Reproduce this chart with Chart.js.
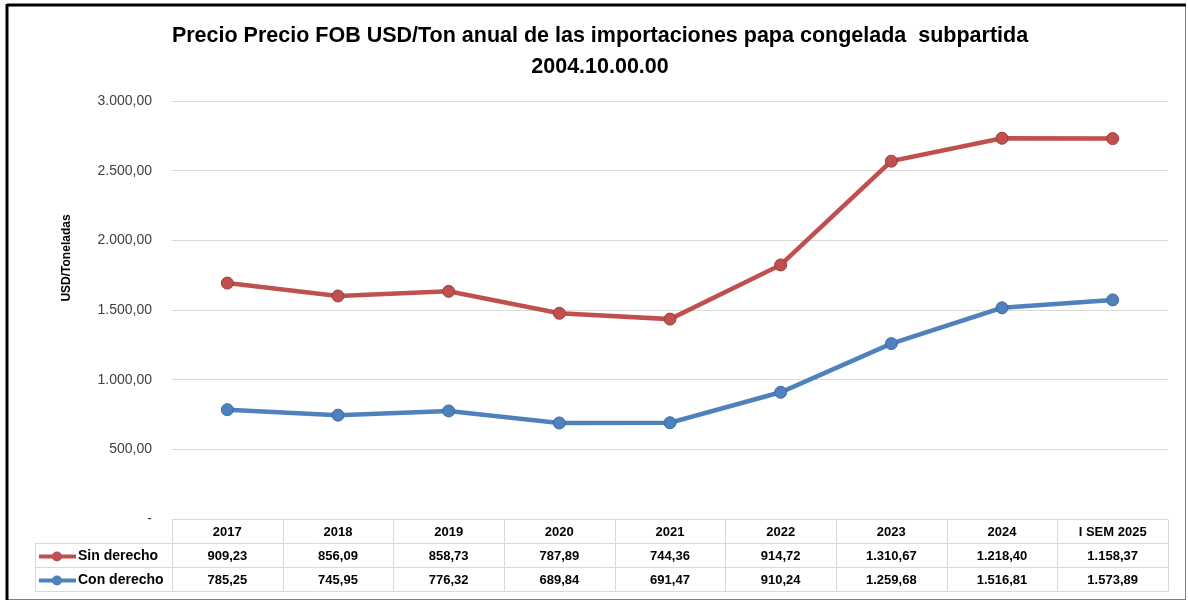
<!DOCTYPE html>
<html>
<head>
<meta charset="utf-8">
<script src="https://cdn.jsdelivr.net/npm/chart.js@4"></script>
<style>
  html, body { margin: 0; padding: 0; background: #ffffff; }
  #wrap { position: relative; width: 1188px; height: 604px; }
  canvas { display: block; }
</style>
</head>
<body>
<div id="wrap"><canvas id="grafico" width="1188" height="604"></canvas></div>
<script>
const categorias = ['2017', '2018', '2019', '2020', '2021', '2022', '2023', '2024', 'I SEM 2025'];
const sinDerecho = [909.23, 856.09, 858.73, 787.89, 744.36, 914.72, 1310.67, 1218.40, 1158.37];
const conDerecho = [785.25, 745.95, 776.32, 689.84, 691.47, 910.24, 1259.68, 1516.81, 1573.89];
const ticksEje = [0, 500, 1000, 1500, 2000, 2500, 3000];

const ROJO = '#C0504D';
const AZUL = '#4F81BD';
const FUENTE = '"Liberation Sans", Arial, sans-serif';
const GRIS_REJILLA = '#D9D9D9';

function formato(v) {
  return v.toLocaleString('de-DE', { minimumFractionDigits: 2, maximumFractionDigits: 2 });
}

// Filas de la tabla de datos (en el orden que muestra el gráfico)
const filasTabla = [
  { nombre: 'Sin derecho', color: ROJO, valores: sinDerecho },
  { nombre: 'Con derecho', color: AZUL, valores: conDerecho },
];

// Plugin: marco, título del eje y tabla de datos debajo del área
const tablaPlugin = {
  id: 'tablaDatos',
  beforeDraw(chart) {
    const ctx = chart.ctx;
    ctx.save();
    ctx.fillStyle = '#ffffff';
    ctx.fillRect(0, 0, chart.width, chart.height);
    ctx.restore();
  },
  afterDraw(chart) {
    const ctx = chart.ctx;
    const x = chart.scales.x;
    const area = chart.chartArea;
    const alto = 24;
    const izqLeyenda = 35;
    const ancho = (area.right - area.left) / categorias.length;

    ctx.save();
    ctx.strokeStyle = GRIS_REJILLA;
    ctx.lineWidth = 1;

    // rejilla de la tabla
    const yTop = area.bottom + 0.5;
    ctx.beginPath();
    ctx.moveTo(area.left, yTop);
    ctx.lineTo(area.right, yTop);
    for (let f = 1; f <= filasTabla.length + 1; f++) {
      ctx.moveTo(izqLeyenda, yTop + alto * f);
      ctx.lineTo(area.right, yTop + alto * f);
    }
    ctx.moveTo(izqLeyenda + 0.5, yTop + alto);
    ctx.lineTo(izqLeyenda + 0.5, yTop + alto * (filasTabla.length + 1));
    for (let c = 0; c <= categorias.length; c++) {
      const xx = Math.round(area.left + ancho * c) + 0.5;
      ctx.moveTo(xx, yTop);
      ctx.lineTo(xx, yTop + alto * (filasTabla.length + 1));
    }
    ctx.stroke();

    ctx.fillStyle = '#000000';
    ctx.font = 'bold 13px ' + FUENTE;
    ctx.textAlign = 'center';
    ctx.textBaseline = 'middle';
    categorias.forEach((cat, i) => {
      ctx.fillText(cat, x.getPixelForValue(i), yTop + alto / 2 + 1);
    });

    filasTabla.forEach((fila, f) => {
      const yc = yTop + alto * (f + 1) + alto / 2 + 1;
      // clave de la leyenda
      ctx.strokeStyle = fila.color;
      ctx.lineWidth = 4;
      ctx.beginPath();
      ctx.moveTo(39, yc);
      ctx.lineTo(76, yc);
      ctx.stroke();
      ctx.fillStyle = fila.color;
      ctx.beginPath();
      ctx.arc(57, yc, 5, 0, Math.PI * 2);
      ctx.fill();
      ctx.fillStyle = '#000000';
      ctx.textAlign = 'left';
      ctx.font = 'bold 14px ' + FUENTE;
      ctx.fillText(fila.nombre, 78, yc);
      ctx.font = 'bold 13px ' + FUENTE;
      ctx.textAlign = 'center';
      fila.valores.forEach((v, i) => {
        ctx.fillText(formato(v), x.getPixelForValue(i), yc);
      });
    });

    // título del eje Y
    ctx.save();
    ctx.translate(67, 258);
    ctx.rotate(-Math.PI / 2);
    ctx.font = 'bold 12px ' + FUENTE;
    ctx.fillStyle = '#000000';
    ctx.textAlign = 'center';
    ctx.textBaseline = 'middle';
    ctx.fillText('USD/Toneladas', 0, 0);
    ctx.restore();

    // marco exterior
    ctx.strokeStyle = '#7f7f7f';
    ctx.lineWidth = 1;
    ctx.strokeRect(7.5, 5.5, 1178, 594);
    ctx.strokeStyle = '#000000';
    ctx.lineWidth = 3;
    ctx.beginPath();
    ctx.moveTo(7, 5);
    ctx.lineTo(1186, 5);
    ctx.moveTo(7, 4);
    ctx.lineTo(7, 600);
    ctx.stroke();
    ctx.restore();
  }
};

new Chart(document.getElementById('grafico'), {
  type: 'line',
  data: {
    labels: categorias,
    datasets: [
      {
        label: 'Con derecho',
        data: conDerecho,
        borderColor: AZUL,
        backgroundColor: AZUL,
        pointBackgroundColor: AZUL,
        pointBorderColor: '#3A6AA5',
        borderWidth: 4.5,
        pointRadius: 6,
        pointBorderWidth: 1,
        tension: 0,
      },
      {
        label: 'Sin derecho',
        data: sinDerecho,
        borderColor: ROJO,
        backgroundColor: ROJO,
        pointBackgroundColor: ROJO,
        pointBorderColor: '#9E3B38',
        borderWidth: 4.5,
        pointRadius: 6,
        pointBorderWidth: 1,
        tension: 0,
      },
    ],
  },
  options: {
    responsive: false,
    animation: false,
    layout: { padding: { top: 0, right: 20, bottom: 85, left: 32 } },
    scales: {
      x: {
        display: false,
        offset: true,
      },
      y: {
        stacked: true,
        min: 0,
        max: 3000,
        afterFit(scale) { scale.width = 140; },
        afterBuildTicks(scale) { scale.ticks = ticksEje.map(v => ({ value: v })); },
        grid: { color: GRIS_REJILLA, drawTicks: false },
        border: { display: false },
        ticks: {
          padding: 20,
          color: '#404040',
          font: { family: FUENTE, size: 14 },
          callback: (v) => (v === 0 ? '-' : formato(v)),
        },
      },
    },
    plugins: {
      legend: { display: false },
      tooltip: { enabled: false },
      title: {
        display: true,
        text: ['Precio Precio FOB USD/Ton anual de las importaciones papa congelada  subpartida', '2004.10.00.00'],
        color: '#000000',
        font: { family: FUENTE, size: 21.5, weight: 'bold', lineHeight: 1.45 },
        padding: { top: 20, bottom: 19 },
      },
    },
  },
  plugins: [tablaPlugin],
});
</script>
</body>
</html>
